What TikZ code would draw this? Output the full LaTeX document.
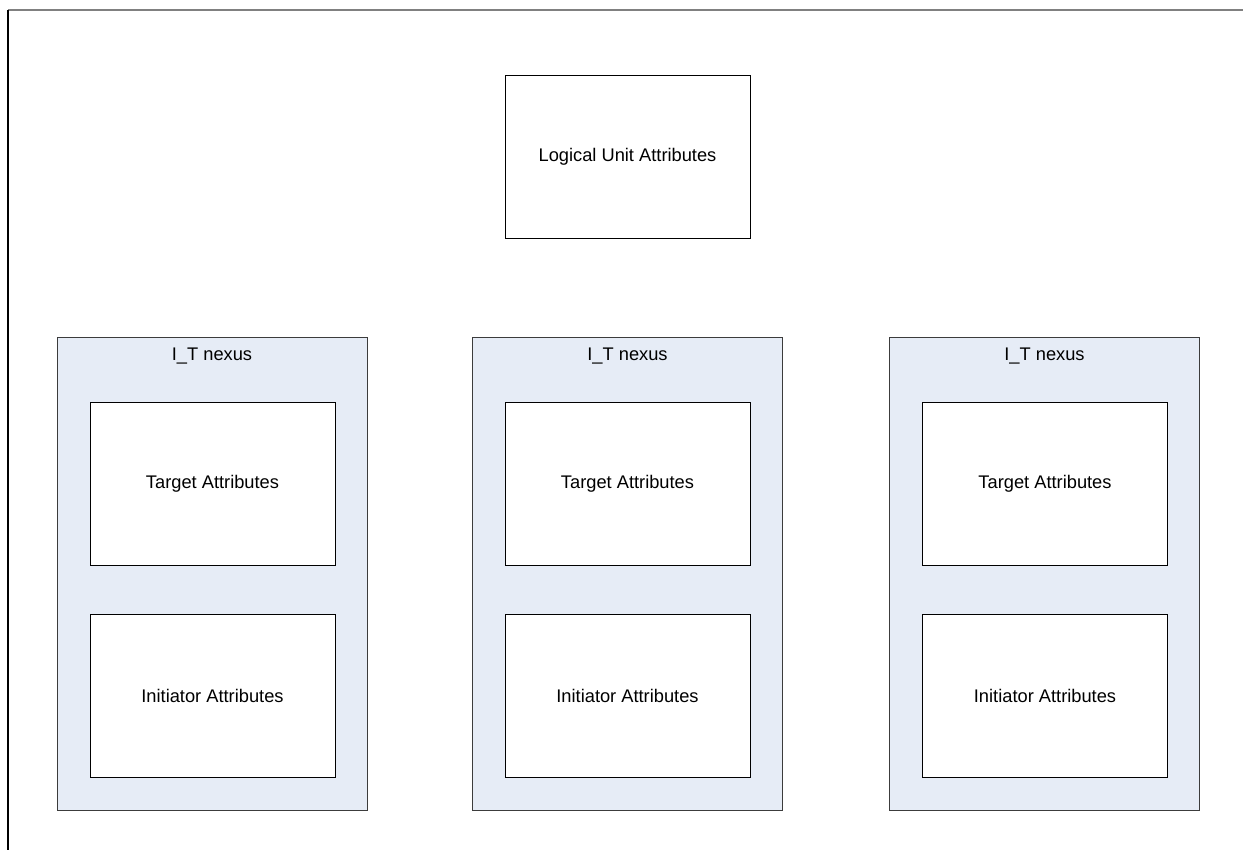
\documentclass[tikz,border=0pt]{standalone}
\usepackage{fontspec}
\setmainfont{Liberation Sans}
\definecolor{nexusfill}{RGB}{230,236,246}
\definecolor{framegray}{RGB}{128,128,128}
\definecolor{nexusline}{RGB}{60,60,60}

\begin{document}
\begin{tikzpicture}[x=0.2mm,y=-0.2mm,
  attrbox/.style={draw=black,fill=white,line width=0.55pt,minimum width=49mm,minimum height=32.6mm,inner sep=0pt,font=\fontsize{10.4}{12}\selectfont},
  nexusbox/.style={draw=nexusline,fill=nexusfill,line width=0.55pt,minimum width=62mm,minimum height=94.6mm,inner sep=0pt},
  nexuslabel/.style={inner sep=0pt,font=\fontsize{10.4}{12}\selectfont}]
\useasboundingbox (0,0) rectangle (1243,850);
\draw[framegray,line width=1.3pt] (8,10) -- (1243,10);
\draw[black,line width=0.8pt] (8,10) -- (8,850);
\node[attrbox] (lu) at (627.5,156.5) {Logical Unit Attributes};
\node[nexusbox] (nexusA) at (212,573.5) {};
\node[nexusbox] (nexusB) at (627.5,573.5) {};
\node[nexusbox] (nexusC) at (1044.5,573.5) {};
\node[nexuslabel] (nexusAlbl) at (212,356.5) {I\_T nexus};
\node[nexuslabel] (nexusBlbl) at (627.5,356.5) {I\_T nexus};
\node[nexuslabel] (nexusClbl) at (1044.5,356.5) {I\_T nexus};
\node[attrbox] (tgtA) at (212.5,483.5) {Target Attributes};
\node[attrbox] (tgtB) at (627.5,483.5) {Target Attributes};
\node[attrbox] (tgtC) at (1045,483.5) {Target Attributes};
\node[attrbox] (iniA) at (212.5,695.5) {Initiator Attributes};
\node[attrbox] (iniB) at (627.5,695.5) {Initiator Attributes};
\node[attrbox] (iniC) at (1045,695.5) {Initiator Attributes};
\end{tikzpicture}
\end{document}
